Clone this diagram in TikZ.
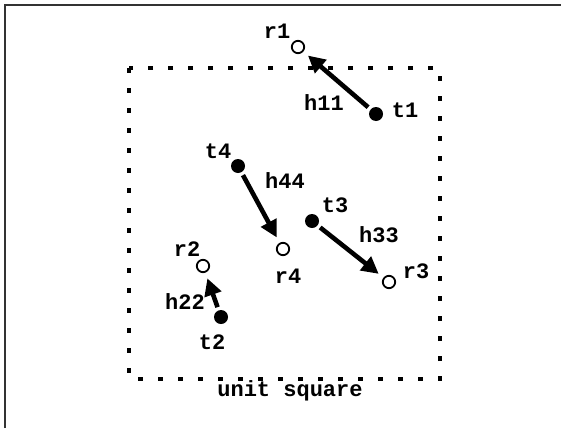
\documentclass[tikz,border=0pt]{standalone}
\usepackage{fontspec}
\setmonofont{Liberation Mono}
\usetikzlibrary{arrows.meta}
\definecolor{FrameGray}{HTML}{333333}

\tikzset{
  tdot/.style={circle,fill=black,inner sep=0pt,minimum size=7pt},
  rdot/.style={circle,draw=black,fill=white,line width=0.9pt,inner sep=0pt,minimum size=6.2pt},
  hop/.style={line width=2.3pt,-{Triangle[length=8.5pt,width=8.5pt]},shorten <=1.5pt,shorten >=3pt},
  tag/.style={font=\ttfamily\bfseries\fontsize{11}{13}\selectfont,inner sep=0pt}
}

\begin{document}
\begin{tikzpicture}[x=0.5pt,y=-0.5pt]
  \useasboundingbox (0,0) rectangle (561,428);
  \coordinate (FL) at (5,428); \coordinate (FC) at (5,5); \coordinate (FR) at (561,5);
  \draw[FrameGray,line width=1pt] (FL)--(FC)--(FR);
  \coordinate (SA) at (129,68); \coordinate (SB) at (440,379);
  \draw[line width=2pt,dash pattern=on 2.4pt off 7.6pt] (SA) rectangle (SB);
  \node[tag] (unit) at (290,391) {unit square};
  % transmitters and receivers
  \node[tdot] (t1) at (376,114) {}; \node[rdot] (r1) at (298,47) {};
  \node[tdot] (t2) at (221,317) {}; \node[rdot] (r2) at (203,266) {};
  \node[tdot] (t3) at (312,221) {}; \node[rdot] (r3) at (389,282) {};
  \node[tdot] (t4) at (238,166) {}; \node[rdot] (r4) at (283,249) {};
  \draw[hop] (t1)--(r1); \draw[hop] (t2)--(r2); \draw[hop] (t3)--(r3); \draw[hop] (t4)--(r4);
  \node[tag] (lt1) at (405,110) {t1}; \node[tag] (lr1) at (277,31) {r1}; \node[tag] (lh11) at (324,103) {h11};
  \node[tag] (lt2) at (212,342) {t2}; \node[tag] (lr2) at (187,249) {r2}; \node[tag] (lh22) at (185,302) {h22};
  \node[tag] (lt3) at (335,205) {t3}; \node[tag] (lr3) at (416,271) {r3}; \node[tag] (lh33) at (379,235) {h33};
  \node[tag] (lt4) at (218,151) {t4}; \node[tag] (lr4) at (288,276) {r4}; \node[tag] (lh44) at (285,181) {h44};
\end{tikzpicture}
\end{document}
